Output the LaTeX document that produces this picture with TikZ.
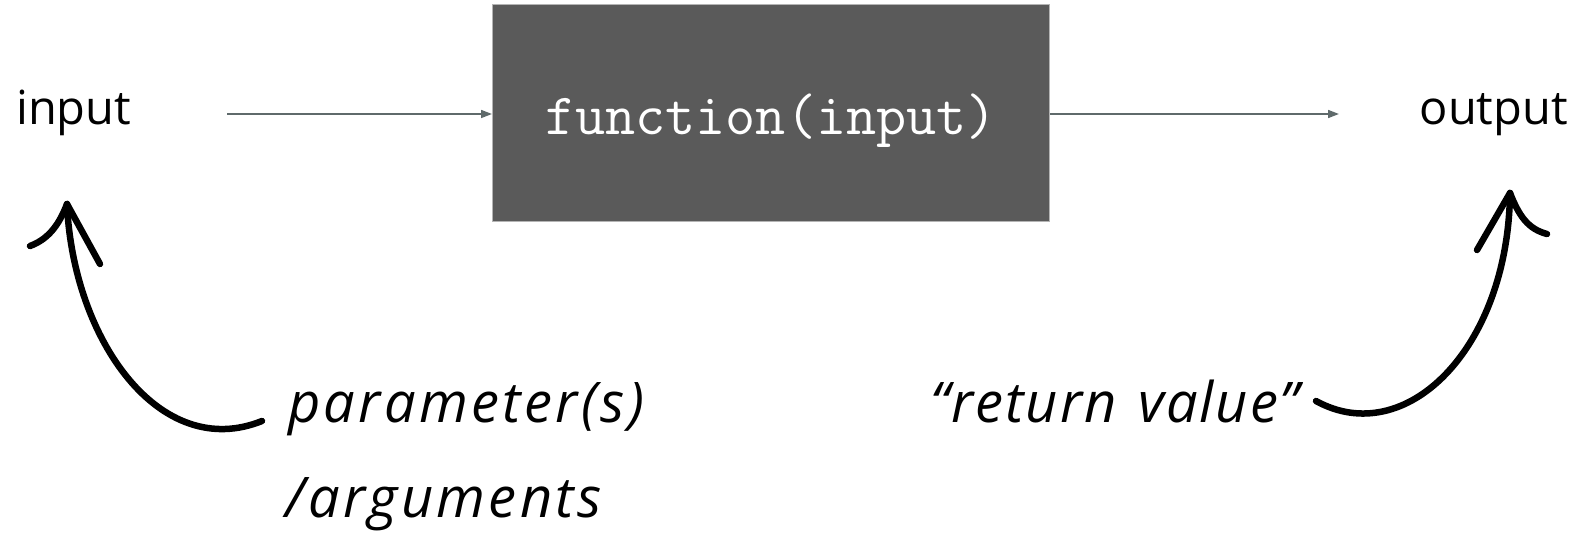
\documentclass[tikz,border=0pt]{standalone}
\usepackage{fontspec}
\setmainfont{Open Sans}
\newfontfamily\notefont[LetterSpace=6]{Open Sans}
\newfontfamily\quotefont[LetterSpace=3.5]{Open Sans}
\usetikzlibrary{arrows.meta}

\definecolor{boxgray}{HTML}{5A5A5A}
\definecolor{boxedge}{HTML}{B4B4B4}
\definecolor{flowgray}{HTML}{5F6A6B}

\tikzset{
  label text/.style={inner sep=0pt, font=\fontsize{47}{56}\selectfont},
  funcbox/.style={fill=boxgray, draw=boxedge, line width=1pt,
    minimum width=557pt, minimum height=217pt, inner sep=0pt,
    text=white, font=\ttfamily\fontsize{58.5}{66}\selectfont,
    text height=43pt, text depth=0pt},
  flow/.style={draw=flowgray, line width=1.6pt,
    -{Triangle[length=11pt,width=8pt]}},
  hand/.style={line width=6.5pt, line cap=round, line join=round, black},
  note/.style={inner sep=0pt, anchor=base west,
    font=\notefont\itshape\fontsize{56}{66}\selectfont},
}

\begin{document}
\begin{tikzpicture}[x=1pt, y=-1pt]
  \useasboundingbox (0,0) rectangle (1582,540);

  % the function box and its inputs/outputs
  \node[funcbox] (fn) at (771,113.5) {function(input)};
  \node[label text, anchor=base west] (in) at (16,125) {input};
  \node[label text, anchor=base east] (out) at (1568,125) {output};

  \coordinate (instart) at (227,114);
  \coordinate (outend) at (1339,114);
  \draw[flow] (instart) -- (instart -| fn.west);
  \draw[flow] (outend -| fn.east) -- (outend);

  % notes below
  \node[note] (param) at (288,422) {parameter(s)};
  \node[note] (args) at (285,517) {/arguments};
  \node[note, font=\quotefont\itshape\fontsize{56}{66}\selectfont]
    (ret) at (930,422) {“return\hspace{22pt}value”};

  % hand-drawn arrow up to the input
  \coordinate (ltip) at (67,204);
  \coordinate (ltail) at (262,421);
  \draw[hand] (ltail) .. controls (160,462) and (73,340) .. (ltip);
  \draw[hand] (ltip) .. controls (58,228) and (46,240) .. (30,246);
  \draw[hand] (ltip) -- (100,264);

  % hand-drawn arrow up to the output
  \coordinate (rtip) at (1510,193);
  \coordinate (rtail) at (1316,401);
  \draw[hand] (rtail) .. controls (1405,450) and (1508,350) .. (rtip);
  \draw[hand] (rtip) .. controls (1519,216) and (1528,229) .. (1547,234);
  \draw[hand] (rtip) -- (1477,250);
\end{tikzpicture}
\end{document}
